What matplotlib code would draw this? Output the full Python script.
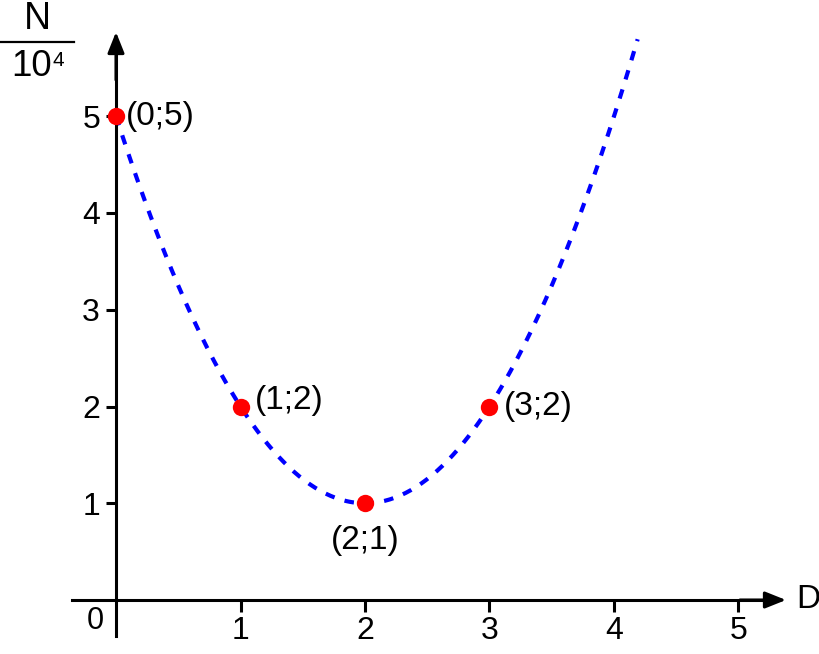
import numpy as np
import matplotlib
matplotlib.use("Agg")
import matplotlib.pyplot as plt

# Data
point_x = [0, 1, 2, 3]
point_y = [5, 2, 1, 2]
point_labels = ["(0;5)", "(1;2)", "(2;1)", "(3;2)"]
xticks = [1, 2, 3, 4, 5]
yticks = [1, 2, 3, 4, 5]
curve_x_end = 4.19

plt.rcParams['font.family'] = ['Liberation Sans', 'DejaVu Sans']

fig = plt.figure(figsize=(8.2, 6.54), dpi=100)
ax = fig.add_axes([0, 0, 1, 1])
px_x = 124.5
px_y = 96.75
x0p, y0p = 116, 600
ax.set_xlim(-x0p / px_x, (820 - x0p) / px_x)
ax.set_ylim(-(654 - y0p) / px_y, y0p / px_y)

# curve: parabola through the marked points
coef = np.polyfit(point_x, point_y, 2)
cx = np.linspace(0, curve_x_end, 300)
cy = np.polyval(coef, cx)
ax.plot(cx, cy, color='#0000ff', lw=3.0, dashes=(2.3, 2.5),
        dash_capstyle='butt', zorder=2)

# axes spines as arrows
for s in ['top', 'right']:
    ax.spines[s].set_visible(False)
ax.spines['left'].set_position(('data', 0))
ax.spines['bottom'].set_position(('data', 0))
ax.spines['left'].set_linewidth(2.2)
ax.spines['bottom'].set_linewidth(2.2)
ax.spines['left'].set_bounds(-(636 - y0p) / px_y, (y0p - 40) / px_y)
ax.spines['bottom'].set_bounds(-(x0p - 72) / px_x, (778 - x0p) / px_x)

arrow_kw = dict(arrowstyle='-|>,head_length=0.45,head_width=0.18', color='black',
                lw=2.2, mutation_scale=28, shrinkA=0, shrinkB=0)
ax.annotate('', xy=(0, (y0p - 32) / px_y), xytext=(0, (y0p - 80) / px_y),
            arrowprops=arrow_kw, zorder=5)
ax.annotate('', xy=((786 - x0p) / px_x, 0), xytext=((740 - x0p) / px_x, 0),
            arrowprops=arrow_kw, zorder=5)

ax.set_xticks(xticks)
ax.set_yticks(yticks)
ax.set_xticklabels([str(t) for t in xticks], fontsize=23)
ax.set_yticklabels([str(t) for t in yticks], fontsize=23)
ax.tick_params(axis='x', direction='out', length=8.5, width=2.2, pad=3)
ax.tick_params(axis='y', direction='out', length=7.5, width=2.2, pad=4)

# points
ax.plot(point_x, point_y, 'o', color='#ff0000', ms=12.5, zorder=4, mec='none')

offsets = {0: (7, 0), 1: (10, 4), 2: (0, -27), 3: (10, 0)}
for i, (x, y, lab) in enumerate(zip(point_x, point_y, point_labels)):
    dx, dy = offsets[i]
    ha = 'center' if i == 2 else 'left'
    ax.annotate(lab, (x, y), xytext=(dx, dy), textcoords='offset points',
                ha=ha, va='center', fontsize=24)

# origin and axis names
ax.text(-21 / px_x, -(621 - y0p) / px_y, '0', ha='center', va='center', fontsize=22)
ax.text((808 - x0p) / px_x, 0, 'D', ha='center', va='center', fontsize=24)

fig.text(37.5 / 820, 1 - 19 / 654, 'N', ha='center', va='center', fontsize=27)
fig.text(31.5 / 820, 1 - 66 / 654, '10', ha='center', va='center', fontsize=26.5)
fig.text(52.5 / 820, 1 - 60 / 654, '4', ha='left', va='center', fontsize=15)
fig.add_artist(plt.Line2D([1 / 820, 74 / 820], [1 - 42 / 654, 1 - 42 / 654],
                          color='black', lw=1.6))

fig.savefig('out.png', dpi=100)
